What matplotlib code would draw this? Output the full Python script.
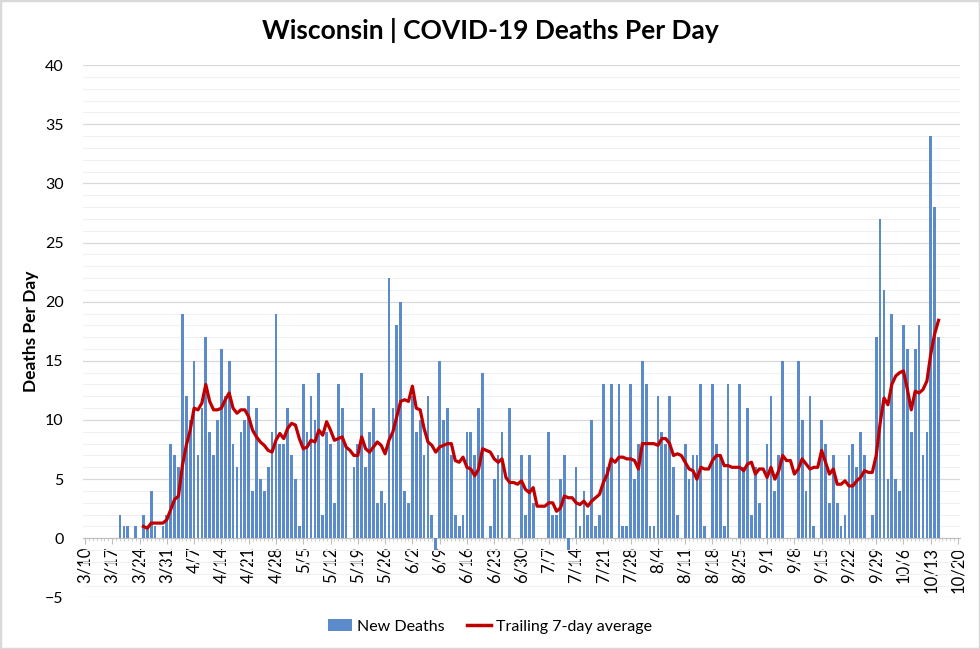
import numpy as np
import pandas as pd
import matplotlib
matplotlib.use("Agg")
import matplotlib.pyplot as plt
import matplotlib.dates as mdates
from matplotlib.patches import Patch, Rectangle
from matplotlib.lines import Line2D
from matplotlib.ticker import FixedLocator, FuncFormatter, MultipleLocator

plt.rcParams['font.family'] = ['Lato', 'DejaVu Sans']

# daily new deaths, 3/19 .. 10/15
first_day = "2020-03-19"
new_deaths = [
    2, 1, 1, 0, 1, 0, 2, 1, 4, 1, 0, 1, 2, 8, 7, 6, 19, 12, 10, 15,    # 3/19 - 4/7
    7, 11, 17, 9, 7, 10, 16, 12, 15, 8, 6, 9, 10, 12, 4, 11, 5, 4, 6, 9,  # 4/8 - 4/27
    19, 8, 8, 11, 7, 5, 1, 13, 9, 12, 10, 14, 2, 9, 8, 3, 13, 11, 8, 0,   # 4/28 - 5/17
    6, 8, 14, 6, 9, 11, 3, 4, 3, 22, 11, 18, 20, 4, 3, 12, 9, 10, 7, 12,  # 5/18 - 6/6
    2, -1, 15, 10, 11, 7, 2, 1, 2, 9, 9, 7, 11, 14, 0, 1, 5, 7, 9, 0,     # 6/7 - 6/26
    11, 0, 0, 7, 2, 7, 3, 0, 0, 0, 9, 2, 2, 5, 7, -1, 0, 6, 1, 4,         # 6/27 - 7/16
    2, 10, 1, 2, 13, 6, 13, 0, 13, 1, 1, 13, 5, 8, 15, 13, 1, 1, 12, 9,   # 7/17 - 8/5
    8, 12, 6, 2, 0, 8, 5, 7, 7, 13, 1, 0, 13, 8, 7, 1, 13, 0, 0, 13,      # 8/6 - 8/25
    6, 11, 2, 6, 3, 0, 8, 12, 4, 7, 15, 0, 0, 0, 15, 10, 4, 12, 1, 0,     # 8/26 - 9/14
    10, 8, 3, 7, 3, 1, 2, 7, 8, 6, 9, 7, 0, 2, 17, 27, 21, 5, 19, 5,      # 9/15 - 10/4
    4, 18, 16, 9, 16, 18, 7, 9, 34, 28, 17,                               # 10/5 - 10/15
]

axis_start = pd.Timestamp("2020-03-10")
axis_end = pd.Timestamp("2020-10-20")

dates = pd.date_range(first_day, periods=len(new_deaths), freq="D")
deaths = pd.Series(new_deaths, index=dates, dtype=float)
trailing = deaths.rolling(7).mean()

bar_color = "#5B8BCB"
line_color = "#C00000"

fig = plt.figure(figsize=(9.8, 6.49), dpi=100)
fig.patches.append(Rectangle((0, 0), 1, 1, transform=fig.transFigure,
                             fill=False, edgecolor="#d9d9d9", linewidth=2.5))
ax = fig.add_axes([0.0847, 0.0794, 0.8949, 0.8204])

ax.bar(mdates.date2num(dates), deaths.values, width=0.7, color=bar_color, zorder=2)
ax.plot(mdates.date2num(dates), trailing.values, color=line_color, linewidth=2.3,
        zorder=3, solid_joinstyle="round")

ax.set_ylim(-5, 40)
ax.yaxis.set_major_locator(MultipleLocator(5))
ax.yaxis.set_minor_locator(MultipleLocator(1))
ax.grid(axis="y", which="major", color="#d9d9d9", linewidth=0.9, zorder=0)
ax.grid(axis="y", which="minor", color="#f0f0f0", linewidth=0.8, zorder=0)
ax.set_axisbelow(True)

x0 = mdates.date2num(axis_start) - 0.5
x1 = mdates.date2num(axis_end) + 0.5
ax.set_xlim(x0, x1)
weeks = pd.date_range(axis_start, axis_end, freq="7D")
ax.xaxis.set_major_locator(FixedLocator(mdates.date2num(weeks)))
ax.xaxis.set_minor_locator(MultipleLocator(1))
ax.xaxis.set_major_formatter(FuncFormatter(
    lambda v, pos: f"{mdates.num2date(v).month}/{mdates.num2date(v).day}"))

for side in ["top", "right", "left"]:
    ax.spines[side].set_visible(False)
ax.spines["bottom"].set_position(("data", 0))
ax.spines["bottom"].set_color("#bfbfbf")
ax.spines["bottom"].set_zorder(1)

ax.tick_params(axis="x", which="major", length=4, color="#bfbfbf", labelsize=12,
               labelcolor="black", labelrotation=90, pad=2)
ax.tick_params(axis="x", which="minor", length=2.5, width=0.6, color="#c8c8c8")
ax.tick_params(axis="y", which="both", length=0, labelsize=11.5, pad=14,
               labelcolor="black")

ax.set_ylabel("Deaths Per Day", fontsize=12.5, fontweight="bold", labelpad=4)
fig.text(0.5, 0.953, "Wisconsin | COVID-19 Deaths Per Day", ha="center", va="center",
         fontsize=19, fontweight="bold")

handles = [Patch(facecolor=bar_color, edgecolor="none"),
           Line2D([0], [0], color=line_color, linewidth=2.5)]
fig.legend(handles, ["New Deaths", "Trailing 7-day average"], loc="center",
           bbox_to_anchor=(0.5, 0.035), ncol=2, frameon=False, fontsize=11.5,
           handlelength=1.5, handleheight=0.8, columnspacing=1.4, handletextpad=0.3)

fig.savefig("out.png", dpi=100)
